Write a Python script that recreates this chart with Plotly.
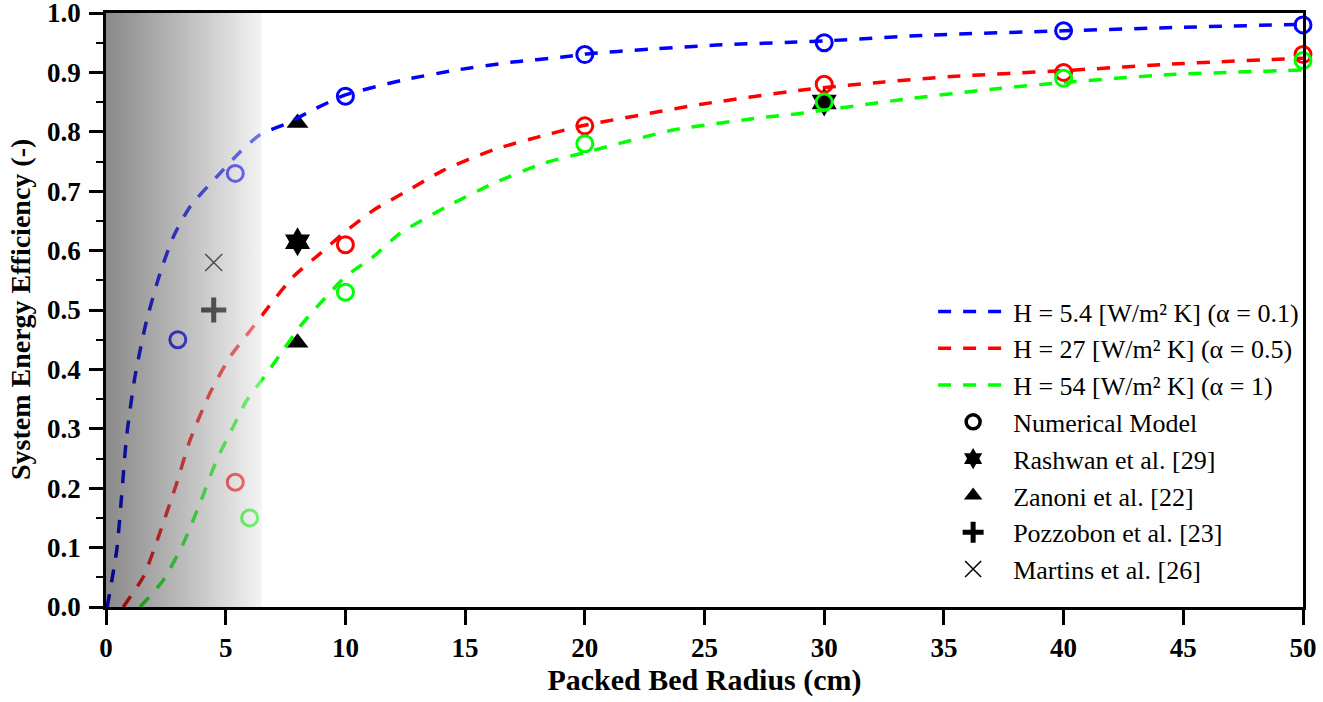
import plotly.graph_objects as go

# ---------------- data ----------------
# dashed model curves
blue_x = [0.05, 0.45, 0.65, 0.86, 1.21, 1.70, 2.26, 2.81, 3.51, 4.62, 5.60, 6.43, 7.55, 8.70, 10.0,
          12.4, 14.65, 16.9, 19.1, 20.0, 22.7, 25.5, 28.85, 30.0, 34.5, 40.0, 45.0, 50.0]
blue_y = [0.0, 0.096, 0.186, 0.287, 0.388, 0.483, 0.562, 0.623, 0.674, 0.724, 0.766, 0.795, 0.814, 0.838, 0.862,
          0.887, 0.904, 0.917, 0.926, 0.931, 0.939, 0.946, 0.951, 0.953, 0.963, 0.970, 0.976, 0.981]

red_x = [0.72, 1.56, 2.19, 2.95, 3.51, 4.34, 5.18, 6.02, 6.57, 7.82, 8.94, 10.0, 11.17, 12.56, 14.09,
         16.2, 18.4, 20.0, 22.7, 24.8, 29.0, 32.5, 35.3, 40.0, 45.0, 50.0]
red_y = [0.0, 0.051, 0.118, 0.208, 0.281, 0.360, 0.421, 0.465, 0.494, 0.556, 0.595, 0.632, 0.668, 0.700, 0.735,
         0.770, 0.795, 0.811, 0.831, 0.846, 0.870, 0.884, 0.893, 0.903, 0.915, 0.924]

green_x = [1.42, 2.39, 3.23, 3.93, 4.62, 5.32, 5.88, 6.71, 7.41, 8.10, 8.94, 10.0, 11.17, 12.28, 14.23,
           16.18, 18.27, 20.0, 23.7, 27.6, 29.0, 33.2, 37.3, 40.0, 44.3, 50.0]
green_y = [0.0, 0.045, 0.107, 0.175, 0.247, 0.304, 0.348, 0.393, 0.433, 0.472, 0.511, 0.556, 0.590, 0.629, 0.674,
           0.713, 0.747, 0.765, 0.803, 0.825, 0.831, 0.854, 0.873, 0.883, 0.896, 0.904]

# numerical model points (circles)
num_blue_x = [3, 5.4, 10, 20, 30, 40, 50]
num_blue_y = [0.45, 0.73, 0.86, 0.93, 0.95, 0.97, 0.98]
num_red_x = [5.4, 10, 20, 30, 40, 50]
num_red_y = [0.21, 0.61, 0.81, 0.88, 0.90, 0.93]
num_green_x = [6, 10, 20, 30, 40, 50]
num_green_y = [0.15, 0.53, 0.78, 0.85, 0.89, 0.92]

# literature points
rashwan_x = [8, 30]
rashwan_y = [0.615, 0.85]
zanoni_x = [8, 8]
zanoni_y = [0.815, 0.445]
pozzobon_x = [4.5]
pozzobon_y = [0.50]
martins_x = [4.5]
martins_y = [0.58]

# shaded region (cm)
shade_x = [0, 6.5]
y_range = [0, 1.0]

series_names = ["H = 5.4 [W/m² K] (α = 0.1)",
                "H = 27 [W/m² K] (α = 0.5)",
                "H = 54 [W/m² K] (α = 1)"]
series_colors = ["#0000FF", "#FF0000", "#00FF00"]

FONT = "Liberation Serif"

fig = go.Figure()

# literature markers (drawn underneath curves)
fig.add_trace(go.Scatter(x=rashwan_x, y=rashwan_y, mode="markers", showlegend=False,
                         marker=dict(symbol="hexagram", size=22, color="black"), cliponaxis=False))
fig.add_trace(go.Scatter(x=zanoni_x, y=zanoni_y, mode="markers", showlegend=False,
                         marker=dict(symbol="triangle-up", size=19, color="black")))
fig.add_trace(go.Scatter(x=pozzobon_x, y=pozzobon_y, mode="markers", showlegend=False,
                         marker=dict(symbol="cross-thin-open", size=18, color="black",
                                     line=dict(width=5, color="black"))))
fig.add_trace(go.Scatter(x=martins_x, y=martins_y, mode="markers", showlegend=False,
                         marker=dict(symbol="x-thin-open", size=17, color="black",
                                     line=dict(width=1.5, color="black"))))

# curves
for i, (cx, cy) in enumerate([(blue_x, blue_y), (red_x, red_y), (green_x, green_y)]):
    fig.add_trace(go.Scatter(x=cx, y=cy, mode="lines", name=series_names[i],
                             legendgroup=f"g{i}",
                             line=dict(color=series_colors[i], width=3.5, dash="13px,12px",
                                       shape="spline", smoothing=0.6)))

# numerical model circles
for i, (nx, ny) in enumerate([(num_blue_x, num_blue_y), (num_red_x, num_red_y), (num_green_x, num_green_y)]):
    fig.add_trace(go.Scatter(x=nx, y=ny, mode="markers", showlegend=False, cliponaxis=False,
                             marker=dict(symbol="circle-open", size=16, color=series_colors[i],
                                         line=dict(width=3, color=series_colors[i]))))

# legend-only entries
legend_entries = [
    ("Numerical Model", dict(symbol="circle-open", size=14, color="black", line=dict(width=3.5, color="black"))),
    ("Rashwan et al. [29]", dict(symbol="hexagram", size=16, color="black")),
    ("Zanoni et al. [22]", dict(symbol="triangle-up", size=16, color="black")),
    ("Pozzobon et al. [23]", dict(symbol="cross-thin-open", size=15, color="black", line=dict(width=5, color="black"))),
    ("Martins et al. [26]", dict(symbol="x-thin-open", size=16, color="black", line=dict(width=1.5, color="black"))),
]
for j, (nm, mk) in enumerate(legend_entries):
    fig.add_trace(go.Scatter(x=[None], y=[None], mode="markers", name=nm, legendgroup=f"m{j}",
                             marker=mk))

# gradient overlay on top
fig.add_trace(go.Scatter(x=[shade_x[0], shade_x[1], shade_x[1], shade_x[0], shade_x[0]],
                         y=[y_range[0], y_range[0], y_range[1], y_range[1], y_range[0]],
                         mode="lines", fill="toself", showlegend=False, hoverinfo="skip",
                         line=dict(width=0, color="rgba(0,0,0,0)"),
                         fillgradient=dict(type="horizontal",
                                           colorscale=[[0, "rgba(0,0,0,0.46)"],
                                                       [1, "rgba(232,232,232,0.5)"]])))

axis_common = dict(showline=True, linewidth=2.5, linecolor="black", mirror=True,
                   showgrid=False, zeroline=False, ticks="outside", tickwidth=2.5,
                   tickcolor="black", automargin=False, ticklabeloverflow="allow",
                   tickfont=dict(family=FONT, size=27, color="black", weight="bold"))

fig.update_layout(
    width=1323, height=702,
    margin=dict(l=106, r=20, t=13, b=95),
    plot_bgcolor="white", paper_bgcolor="white",
    xaxis=dict(range=[0, 50], dtick=5, tick0=0, ticklen=15,
               title=dict(text="Packed Bed Radius (cm)", standoff=2,
                          font=dict(family=FONT, size=30, color="black", weight="bold")),
               **axis_common),
    yaxis=dict(range=y_range, dtick=0.1, tick0=0, tickformat=".1f", ticklen=14,
               ticklabelstandoff=3,
               minor=dict(dtick=0.05, ticklen=7, tickwidth=2, ticks="outside", tickcolor="black"),
               **axis_common),
    legend=dict(x=0.691, y=0.537, xanchor="left", yanchor="top",
                bgcolor="rgba(0,0,0,0)", borderwidth=0,
                traceorder="grouped", tracegroupgap=0, itemwidth=70,
                font=dict(family=FONT, size=26, color="black")),
    showlegend=True,
    annotations=[dict(text="System Energy Efficiency (-)", textangle=-90,
                      xref="paper", yref="paper", x=-0.0718, y=0.5,
                      xanchor="center", yanchor="middle", showarrow=False,
                      font=dict(family=FONT, size=28, color="black", weight="bold"))],
)

fig.write_html("out.html")
